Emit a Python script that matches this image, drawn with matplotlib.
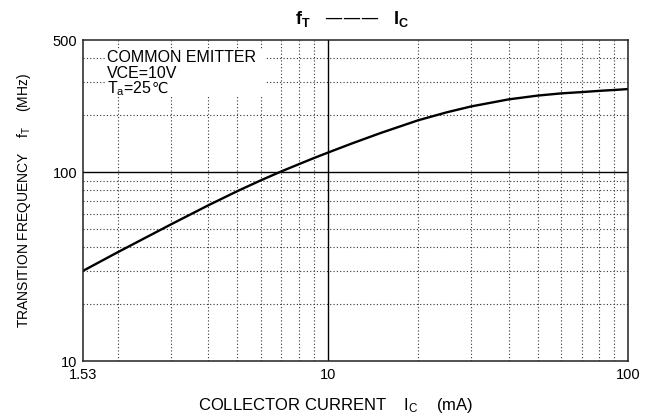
import matplotlib
matplotlib.use('Agg')
import matplotlib.pyplot as plt
from matplotlib.patches import Rectangle
from matplotlib.ticker import FixedLocator, NullFormatter

plt.rcParams['font.family'] = ['Liberation Sans', 'DejaVu Sans']
plt.rcParams['mathtext.default'] = 'regular'

# values
ic_ma  = [1.53, 2, 3, 4, 5, 6, 7, 8, 9, 10, 12, 15, 20, 25, 30, 40, 50, 60, 70, 80, 90, 100]
ft_mhz = [30, 37.7, 52.8, 66.7, 79.3, 90.6, 100.8, 110, 118.7, 126.7, 141.5, 161, 188,
          207.5, 222.5, 242.5, 254, 261, 265, 269, 272, 275]
x_ticks = [1.53, 10, 100]
x_tick_labels = ['1.53', '10', '100']
y_ticks = [10, 100, 500]
y_tick_labels = ['10', '100', '500']
x_grid = [2, 3, 4, 5, 6, 7, 8, 9, 20, 30, 40, 50, 60, 70, 80, 90]
y_grid = [20, 30, 40, 50, 60, 70, 80, 90, 200, 300, 400]

fig = plt.figure(figsize=(6.51, 4.16), dpi=100)
ax = fig.add_axes([0.1275, 0.1322, 0.8372, 0.7716])
ax.set_xscale('log')
ax.set_yscale('log')
ax.set_xlim(1.53, 100)
ax.set_ylim(10, 500)

ax.xaxis.set_major_locator(FixedLocator(x_ticks))
ax.set_xticklabels(x_tick_labels)
ax.yaxis.set_major_locator(FixedLocator(y_ticks))
ax.set_yticklabels(y_tick_labels)
ax.xaxis.set_minor_locator(FixedLocator(x_grid))
ax.yaxis.set_minor_locator(FixedLocator(y_grid))
ax.xaxis.set_minor_formatter(NullFormatter())
ax.yaxis.set_minor_formatter(NullFormatter())
ax.tick_params(which='both', length=0, labelsize=10.5)
ax.tick_params(axis='x', pad=5)
ax.tick_params(axis='y', pad=4)

ax.grid(which='minor', color='#333333', linestyle=(0, (1, 2)), linewidth=0.8)
ax.axvline(10, color='black', linewidth=1.0)
ax.axhline(100, color='black', linewidth=1.0)
for s in ax.spines.values():
    s.set_linewidth(1.1)
    s.set_color('#222222')

ax.plot(ic_ma, ft_mhz, color='black', linewidth=1.7)

# condition notes on a white patch
ax.add_patch(Rectangle((0.040, 0.825), 0.295, 0.148, transform=ax.transAxes,
                       facecolor='white', edgecolor='none', zorder=2))
note_kw = dict(transform=ax.transAxes, fontsize=11.5, va='center', ha='left', zorder=3)
ax.text(0.044, 0.947, 'COMMON EMITTER', **note_kw)
ax.text(0.044, 0.897, 'VCE=10V', **note_kw)
ta = ax.text(0.044, 0.850, 'T$_a$=25', **note_kw)
ax.annotate('\u2103', xy=(1, 0.5), xycoords=ta, va='center', ha='left',
            fontsize=10.5, family='DejaVu Sans', zorder=3)

ax.set_xlabel('COLLECTOR CURRENT    I$_C$    (mA)', fontsize=12, labelpad=10, x=0.464)
ax.set_ylabel('TRANSITION FREQUENCY    f$_T$    (MHz)', fontsize=10, labelpad=14)

fig.text(0.541, 0.955, 'f$_T$   \u2014\u2014\u2014   I$_C$', ha='center', va='center',
         fontsize=13, fontweight='bold')

fig.savefig('out.png', dpi=100)
